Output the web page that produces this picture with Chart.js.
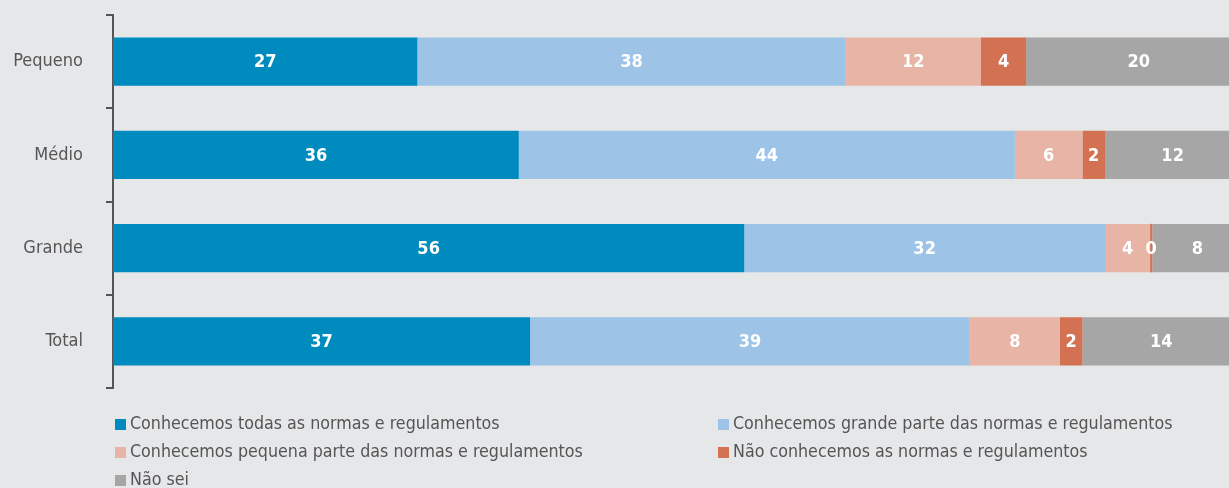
<!DOCTYPE html>
<html><head><meta charset="utf-8">
<script src="https://cdn.jsdelivr.net/npm/chart.js@4.4.0/dist/chart.umd.min.js"></script>
<style>html,body{margin:0;padding:0;background:#e6e7e9;}#wrap{width:1229px;height:488px;position:relative;}</style>
</head><body><div id="wrap"><canvas id="c" width="1229" height="488"></canvas></div>
<script>
const categories = ["Pequeno", "Médio", "Grande", "Total"];
const seriesNames = [
  "Conhecemos todas as normas e regulamentos",
  "Conhecemos grande parte das normas e regulamentos",
  "Conhecemos pequena parte das normas e regulamentos",
  "Não conhecemos as normas e regulamentos",
  "Não sei"
];
const todas = [27, 36, 56, 37];
const grande = [38, 44, 32, 39];
const pequena = [12, 6, 4, 8];
const nao = [4, 2, 0.2, 2];
const naoSei = [20, 12, 8, 14];
const labelsShown = [[27,36,56,37],[38,44,32,39],[12,6,4,8],[4,2,0,2],[20,12,8,14]];
const colors = ["#008bbf", "#9dc3e6", "#e7b4a5", "#d27253", "#a6a6a6"];
const FONT = "'Liberation Sans Narrow', 'DejaVu Sans Condensed', sans-serif";

const valueLabels = {
  id: 'valueLabels',
  afterDatasetsDraw(chart) {
    const ctx = chart.ctx;
    ctx.save();
    ctx.font = "bold 18px " + FONT;
    ctx.fillStyle = "#ffffff";
    ctx.textAlign = "center";
    ctx.textBaseline = "middle";
    chart.data.datasets.forEach((ds, di) => {
      const meta = chart.getDatasetMeta(di);
      meta.data.forEach((bar, i) => {
        const cx = (bar.x + bar.base) / 2;
        ctx.fillText(String(labelsShown[di][i]), cx, bar.y + 1);
      });
    });
    ctx.restore();
  }
};
const legendPlugin = {
  id: 'customLegend',
  afterDraw(chart) {
    const ctx = chart.ctx;
    ctx.save();
    ctx.font = "17.7px " + FONT;
    ctx.textBaseline = "middle";
    ctx.textAlign = "left";
    const cols = [115, 718];
    const rows = [424, 452, 480];
    chart.data.datasets.forEach((ds, i) => {
      const x = cols[i % 2], y = rows[Math.floor(i / 2)];
      ctx.fillStyle = ds.backgroundColor;
      ctx.fillRect(x, y - 5, 11, 11);
      ctx.fillStyle = "#555555";
      ctx.fillText(ds.label, x + 15, y);
    });
    ctx.restore();
  }
};
const dataArrays = [todas, grande, pequena, nao, naoSei];
new Chart(document.getElementById('c'), {
  type: 'bar',
  data: {
    labels: categories,
    datasets: dataArrays.map((d, i) => ({
      label: seriesNames[i], data: d, backgroundColor: colors[i],
      borderWidth: 0, barPercentage: 0.52, categoryPercentage: 1.0
    }))
  },
  options: {
    indexAxis: 'y', responsive: false, animation: false,
    layout: { padding: { top: 15, bottom: 100, left: 0, right: 0 } },
    plugins: { legend: { display: false }, tooltip: { enabled: false } },
    scales: {
      x: { stacked: true, display: false, min: 0, max: 99 },
      y: {
        stacked: true,
        afterFit(s) { s.width = 113; s.paddingTop = 0; s.paddingBottom = 0; },
        border: { display: true, color: '#555555', width: 2 },
        grid: { offset: true, drawOnChartArea: false, drawTicks: true, tickLength: 7, color: '#555555', lineWidth: 2 },
        ticks: { color: '#555555', font: { family: FONT, size: 18 }, padding: 23 }
      }
    }
  },
  plugins: [valueLabels, legendPlugin]
});
</script></body></html>
